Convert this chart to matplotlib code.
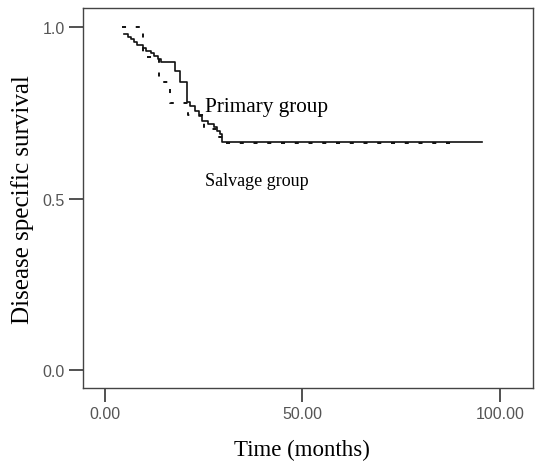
import matplotlib.pyplot as plt

# Kaplan-Meier style curves
primary_time = [4.7, 5.9, 6.5, 7.4, 8.2, 9.5, 10.3, 11.6, 12.5, 13.3, 14.1, 17.8, 18.9,
                20.8, 21.6, 22.9, 23.7, 24.6, 26.2, 27.5, 28.4, 29.2, 29.7, 95.6]
primary_surv = [0.982, 0.973, 0.966, 0.959, 0.949, 0.941, 0.931, 0.925, 0.917, 0.907, 0.898,
                0.874, 0.840, 0.782, 0.772, 0.757, 0.742, 0.728, 0.718, 0.709, 0.699, 0.689,
                0.667, 0.667]

salvage_time = [4.3, 9.6, 13.6, 16.4, 21.0, 25.2, 29.0, 30.0, 89.2]
salvage_surv = [1.0, 0.915, 0.84, 0.78, 0.745, 0.705, 0.68, 0.664, 0.664]

x_ticks = [0, 50, 100]
x_tick_labels = ['0.00', '50.00', '100.00']
y_ticks = [0.0, 0.5, 1.0]
y_tick_labels = ['0.0', '0.5', '1.0']

plt.rcParams['lines.scale_dashes'] = False

fig = plt.figure(figsize=(5.37, 4.64), dpi=100)
ax = fig.add_axes([0.154, 0.1616, 0.8385, 0.818])

ax.step(primary_time, primary_surv, where='post', color='#111111', linewidth=1.2)
ax.step(salvage_time, salvage_surv, where='post', color='#111111', linewidth=1.4,
        linestyle=(0, (2.9, 7.0)))

ax.set_xlim(-5.65, 108.4)
ax.set_ylim(-0.0526, 1.0555)

ax.set_xticks(x_ticks)
ax.set_xticklabels(x_tick_labels, fontsize=11.5, family='Liberation Sans', color='#555555')
ax.set_yticks(y_ticks)
ax.set_yticklabels(y_tick_labels, fontsize=11.5, family='Liberation Sans', color='#555555')
ax.tick_params(axis='both', length=10, width=1.2, color='#333333', pad=3)

for sp in ax.spines.values():
    sp.set_color('#444444')
    sp.set_linewidth(1.0)

ax.set_xlabel('Time (months)', family='Liberation Serif', fontsize=16.5)
ax.xaxis.set_label_coords(0.488, -0.134)
ax.set_ylabel('Disease specific survival', family='Liberation Serif', fontsize=18, labelpad=6)

ax.text(25.3, 0.768, 'Primary group', family='Liberation Serif', fontsize=15.3,
        va='center', ha='left')
ax.text(25.3, 0.552, 'Salvage group', family='Liberation Serif', fontsize=13,
        va='center', ha='left')

fig.savefig('out.png', dpi=100)
